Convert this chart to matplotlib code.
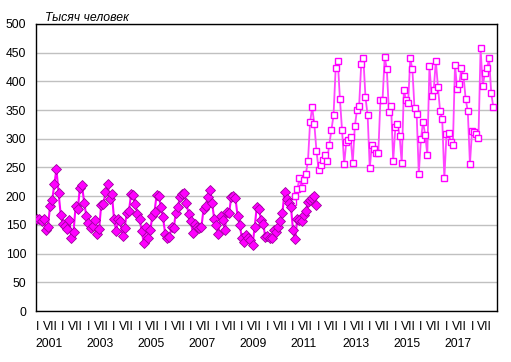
import numpy as np
import matplotlib
matplotlib.use('Agg')
import matplotlib.pyplot as plt
from matplotlib.transforms import blended_transform_factory

plt.rcParams['font.family'] = ['Liberation Sans', 'DejaVu Sans']

# Месячные данные, тысяч человек
# старая методика: январь 2001 - декабрь 2011
old_2001 = [161, 160, 156, 161, 141, 147, 183, 193, 221, 247, 205, 168]
old_2002 = [152, 148, 143, 159, 128, 138, 183, 177, 215, 219, 189, 166]
old_2003 = [153, 144, 148, 159, 135, 142, 185, 186, 207, 221, 195, 204]
old_2004 = [161, 139, 161, 156, 131, 145, 171, 174, 203, 202, 186, 169]
old_2005 = [160, 139, 118, 147, 127, 141, 165, 173, 202, 200, 181, 163]
old_2006 = [135, 128, 129, 146, 144, 171, 182, 199, 203, 205, 188, 169]
old_2007 = [156, 136, 152, 147, 144, 146, 177, 183, 198, 211, 189, 161]
old_2008 = [150, 135, 165, 159, 141, 173, 171, 198, 200, 196, 165, 150]
old_2009 = [127, 121, 132, 128, 124, 115, 146, 182, 177, 159, 152, 129]
old_2010 = [131, 127, 128, 141, 138, 147, 157, 170, 208, 195, 188, 182]
old_2011 = [141, 125, 161, 158, 157, 167, 174, 190, 193, 196, 200, 185]

# новая методика: январь 2011 - ноябрь 2018
new_2011 = [190, 200, 212, 231, 214, 228, 239, 261, 329, 355, 325, 279]
new_2012 = [246, 254, 263, 272, 262, 290, 315, 341, 423, 436, 369, 315]
new_2013 = [256, 295, 298, 303, 257, 322, 350, 357, 431, 440, 372, 341]
new_2014 = [249, 290, 283, 275, 275, 368, 368, 443, 421, 347, 358, 261]
new_2015 = [320, 325, 305, 257, 385, 368, 362, 440, 421, 353, 344, 239]
new_2016 = [299, 330, 307, 272, 427, 375, 385, 436, 390, 348, 334, 231]
new_2017 = [308, 310, 294, 289, 429, 387, 395, 424, 409, 369, 348, 256]
new_2018 = [314, 312, 308, 301, 458, 392, 414, 423, 440, 379, 355]

years = [2001, 2003, 2005, 2007, 2009, 2011, 2013, 2015, 2017]
first_year = 2001
n_years = 18
half_labels = ['I', 'VII']

old = (old_2001 + old_2002 + old_2003 + old_2004 + old_2005 + old_2006
       + old_2007 + old_2008 + old_2009 + old_2010 + old_2011)
new = (new_2011 + new_2012 + new_2013 + new_2014 + new_2015 + new_2016
       + new_2017 + new_2018)

x_old = np.arange(len(old))
x_new = np.arange(len(new)) + (2011 - first_year) * 12

fig = plt.figure(figsize=(5.11, 3.62), dpi=100)
ax = fig.add_axes([36 / 511, 1 - 311 / 362, 461 / 511, 287 / 362])

ax.plot(x_new, new, color='#ff44ff', lw=1.3, marker='s', ms=5.0,
        mfc='white', mec='#ff00ff', mew=1.0, zorder=3)
ax.plot(x_old, old, color='#ff00ff', lw=1.5, marker='D', ms=4.6,
        mfc='#ff00ff', mec='#a000a0', mew=0.6, zorder=4)

ax.set_ylim(0, 500)
ax.set_yticks(np.arange(0, 501, 50))
ax.yaxis.grid(True, color='#c0c0c0', lw=1.0)
ax.set_axisbelow(True)
ax.set_xlim(-0.6, n_years * 12 - 0.3)

ticks = []
labels = []
for i in range(n_years):
    ticks += [i * 12, i * 12 + 6]
    labels += half_labels
ax.set_xticks(ticks)
ax.set_xticklabels(labels)
ax.tick_params(axis='both', length=0, labelsize=8.7, colors='black')
ax.tick_params(axis='x', pad=7)
ax.tick_params(axis='y', pad=7)

for s in ax.spines.values():
    s.set_color('black')
    s.set_linewidth(1.0)

trans = blended_transform_factory(ax.transData, ax.transAxes)
for y in years:
    ax.text((y - first_year) * 12 - 1, -0.095, str(y), transform=trans,
            ha='left', va='top', fontsize=8.7)

fig.text(45 / 511, 1 - 21 / 362, 'Тысяч человек', fontsize=8.8,
         style='italic', ha='left', va='baseline')

fig.savefig('out.png', dpi=100)
